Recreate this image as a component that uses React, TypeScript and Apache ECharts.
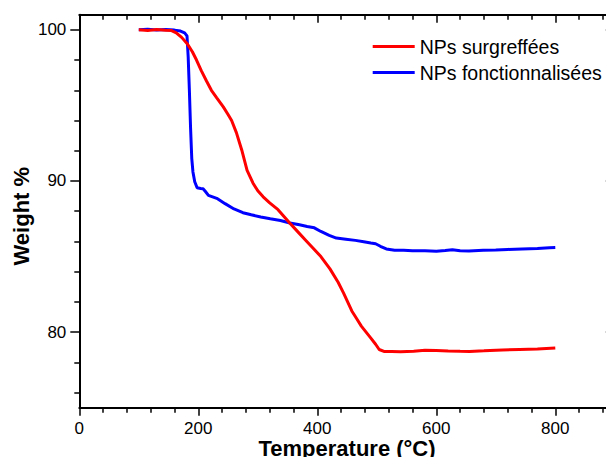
import React, { useEffect, useRef } from "react";
import * as echarts from "echarts";

const seriesNames = ["NPs surgreffées", "NPs fonctionnalisées"];

const tempRed = [100, 115, 130, 145, 155, 163, 172, 181, 190, 197, 205, 214, 222, 231, 242, 250, 256, 264, 273, 282, 292, 300, 309, 320, 334, 354, 367, 380, 393, 406, 421, 435, 444, 458, 466, 474, 482, 490, 498, 504, 512, 525, 540, 562, 581, 600, 620, 640, 656, 680, 711, 740, 770, 800];
const weightRed = [100, 99.96, 100.02, 99.97, 99.95, 99.8, 99.5, 99.1, 98.55, 98.0, 97.3, 96.6, 96.0, 95.5, 94.9, 94.4, 94.0, 93.2, 92.05, 90.7, 89.85, 89.35, 88.95, 88.55, 88.1, 87.2, 86.65, 86.1, 85.55, 85.0, 84.2, 83.3, 82.6, 81.4, 80.9, 80.4, 80.0, 79.6, 79.2, 78.85, 78.72, 78.72, 78.7, 78.73, 78.8, 78.78, 78.75, 78.73, 78.72, 78.76, 78.82, 78.85, 78.88, 78.95];

const tempBlue = [100, 115, 130, 145, 160, 170, 177, 181, 183, 185, 187, 189, 191, 194, 198, 204, 208, 212, 217, 224, 231, 245, 260, 275, 289, 305, 321, 338, 354, 370, 383, 395, 406, 420, 432, 448, 464, 478, 490, 498, 506, 516, 530, 545, 560, 581, 600, 615, 627, 640, 655, 679, 700, 720, 744, 770, 790, 800];
const weightBlue = [100, 100.03, 99.99, 100.02, 99.98, 99.92, 99.8, 99.6, 98.2, 96.0, 93.5, 91.5, 90.6, 89.95, 89.55, 89.5, 89.48, 89.3, 89.05, 88.95, 88.85, 88.5, 88.15, 87.9, 87.76, 87.62, 87.5, 87.38, 87.22, 87.1, 86.99, 86.9, 86.66, 86.4, 86.22, 86.15, 86.07, 85.98, 85.9, 85.85, 85.68, 85.5, 85.42, 85.42, 85.38, 85.38, 85.35, 85.4, 85.45, 85.38, 85.37, 85.41, 85.43, 85.47, 85.5, 85.53, 85.58, 85.6];

const xTicks = [0, 200, 400, 600, 800];
const yTicks = [80, 90, 100];

const font = "'Liberation Sans', Arial, sans-serif";

export default function App() {
  const ref = useRef<HTMLDivElement>(null);
  useEffect(() => {
    const chart = echarts.init(ref.current!, null, { renderer: "svg" });
    const lineStyle = { color: "#000", width: 2 };
    const tickStyle = { color: "#000", width: 1.5 };
    const xBase: any = {
      type: "value",
      min: 0,
      max: 900,
      interval: 200,
      splitLine: { show: false },
      axisLine: { show: true, onZero: false, lineStyle },
      axisTick: { show: true, length: 8, lineStyle: tickStyle, customValues: xTicks },
      minorTick: { show: true, splitNumber: 5, length: 5, lineStyle: tickStyle },
    };
    const yBase: any = {
      type: "value",
      min: 75,
      max: 101,
      splitNumber: 3,
      minInterval: 10,
      maxInterval: 10,
      splitLine: { show: false },
      axisLine: { show: true, onZero: false, lineStyle },
      axisTick: { show: true, length: 9, lineStyle: tickStyle, customValues: yTicks },
      minorTick: { show: true, splitNumber: 5, length: 5, lineStyle: tickStyle },
    };
    chart.setOption({
      animation: false,
      backgroundColor: "#fff",
      grid: {
        left: 79.3,
        top: 14.7,
        width: 535.5,
        height: 393,
        containLabel: false,
        outerBoundsMode: "none",
      },
      legend: {
        orient: "vertical",
        left: 372.7,
        top: 36.5,
        padding: 0,
        itemWidth: 42,
        itemHeight: 3,
        itemGap: 6,
        icon: "rect",
        data: seriesNames,
        textStyle: { fontSize: 19.5, fontFamily: font, color: "#000" },
      },
      xAxis: [
        {
          ...xBase,
          position: "bottom",
          axisLabel: { customValues: xTicks, fontSize: 17, color: "#000", margin: 12, fontFamily: font },
          name: "Temperature (°C)",
          nameLocation: "middle",
          nameGap: 30,
          nameMoveOverlap: false,
          nameTextStyle: { fontSize: 22, fontWeight: "bold", fontFamily: font, color: "#000" },
        },
        {
          ...xBase,
          position: "top",
          axisTick: { ...xBase.axisTick, inside: true },
          minorTick: { ...xBase.minorTick },
          axisLabel: { show: false },
        },
      ],
      yAxis: [
        {
          ...yBase,
          position: "left",
          axisLabel: { customValues: yTicks, fontSize: 17, color: "#000", margin: 13, fontFamily: font },
          name: "Weight %",
          nameLocation: "middle",
          nameGap: 47,
          nameRotate: 90,
          nameMoveOverlap: false,
          nameTextStyle: { fontSize: 22, fontWeight: "bold", fontFamily: font, color: "#000", padding: [0, 10, 0, 0] },
        },
        {
          ...yBase,
          position: "right",
          axisTick: { ...yBase.axisTick, inside: true },
          axisLabel: { show: false },
        },
      ],
      series: [
        {
          name: seriesNames[0],
          type: "line",
          showSymbol: false,
          symbol: "none",
          z: 3,
          color: "#ff0000",
          lineStyle: { color: "#ff0000", width: 3 },
          data: tempRed.map((t, i) => [t, weightRed[i]]),
        },
        {
          name: seriesNames[1],
          type: "line",
          showSymbol: false,
          symbol: "none",
          z: 2,
          color: "#0000ff",
          lineStyle: { color: "#0000ff", width: 3 },
          data: tempBlue.map((t, i) => [t, weightBlue[i]]),
        },
      ],
    });
    return () => chart.dispose();
  }, []);
  return (
    <div
      ref={ref}
      style={{ position: "fixed", left: 0, top: 0, width: 606, height: 457, background: "#fff" }}
    />
  );
}
